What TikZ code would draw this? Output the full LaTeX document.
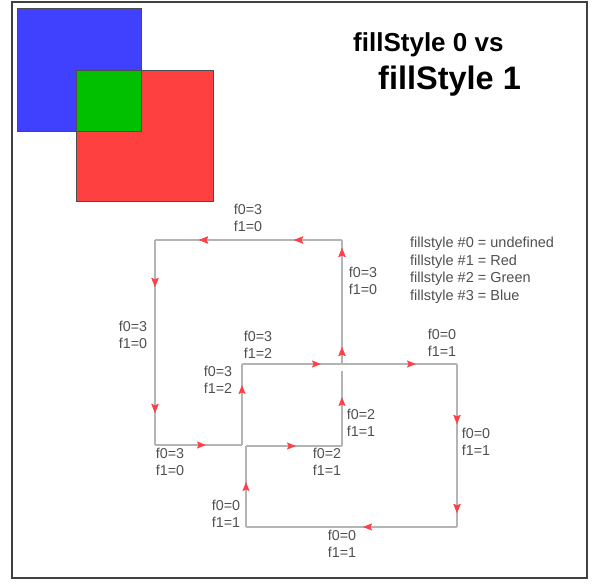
\documentclass[tikz,border=0pt]{standalone}
\usepackage{fontspec}
\setmainfont{Liberation Sans}
\usepackage{xcolor}
\usetikzlibrary{arrows.meta,decorations.markings}
\definecolor{fillblue}{RGB}{64, 64, 255}
\definecolor{fillred}{RGB}{255, 64, 64}
\definecolor{fillgreen}{RGB}{0, 192, 0}
\definecolor{edgegray}{RGB}{180, 180, 180}
\definecolor{tipred}{RGB}{255, 64, 72}
\definecolor{labelgray}{RGB}{80, 80, 80}

\begin{document}
\begin{tikzpicture}[x=1pt, y=-1pt,
    edgeline/.style={draw=edgegray, line width=1.3pt},
    tipat/.style={postaction={decorate}, decoration={markings,
        mark=at position #1 with {\arrow[color=tipred]{Stealth[length=9pt, width=7pt, inset=1.5pt]}}}},
    fval/.style={font=\fontsize{14.3}{17}\selectfont, text=labelgray, align=left, inner sep=0pt},
    legend/.style={font=\fontsize{14.5}{17.5}\selectfont, text=labelgray, align=left, inner sep=0pt, anchor=north west}]
        \useasboundingbox (0,0) rectangle (599,585);
        % Frame
        \draw[draw=black!75, line width=1.4pt] (12,2) rectangle (587,578);

        % Overlapping squares
        \fill[fillblue] (17,8) rectangle (141,131);
        \fill[fillred] (76,70) rectangle (213,201);
        \fill[fillgreen] (76,70) rectangle (141,131);
        \draw[black!70, line width=0.9pt] (17,8) rectangle (141,131);
        \draw[black!70, line width=0.9pt] (76,70) rectangle (213,201);

        % Title
        \node[font=\fontsize{26}{30}\selectfont\bfseries, anchor=base west, inner sep=0pt] (title0) at (353,52) {fillStyle 0 vs};
        \node[font=\fontsize{32.5}{38}\selectfont\bfseries, anchor=base west, inner sep=0pt] (title1) at (378,90) {fillStyle 1};

        % Corners of the edge paths
        \coordinate (tr) at (342,240);
        \coordinate (tl) at (155,240);
        \coordinate (bl) at (155,445);
        \coordinate (bm) at (242,445);
        \coordinate (ml) at (242,364);
        \coordinate (mm) at (342,364);
        \coordinate (mr) at (457,364);
        \coordinate (lr) at (457,527);
        \coordinate (ll) at (246,527);
        \coordinate (il) at (246,446);
        \coordinate (ir) at (342,446);
        \coordinate (gap) at (342,371);

        % Edges with direction marks
        \draw[edgeline, tipat=48pt, tipat=143pt] (tr) -- (tl);
        \draw[edgeline, tipat=47pt, tipat=173pt] (tl) -- (bl);
        \draw[edgeline, tipat=51pt] (bl) -- (bm);
        \draw[edgeline, tipat=60pt] (bm) -- (ml);
        \draw[edgeline, tipat=79pt] (ml) -- (mm);
        \draw[edgeline, tipat=74pt] (mm) -- (mr);
        \draw[edgeline, tipat=60pt, tipat=149pt] (mr) -- (lr);
        \draw[edgeline, tipat=94pt] (lr) -- (ll);
        \draw[edgeline, tipat=45pt] (ll) -- (il);
        \draw[edgeline, tipat=50pt] (il) -- (ir);
        \draw[edgeline, tipat=49pt] (ir) -- (gap);
        \draw[edgeline, tipat=17pt, tipat=116pt] (mm) -- (tr);

        % Edge values
        \node[fval] (ftop) at (248,218) {f0=3\\f1=0};
        \node[fval] (fup) at (363,281) {f0=3\\f1=0};
        \node[fval] (fleft) at (133,335) {f0=3\\f1=0};
        \node[fval] (fmid) at (258,345) {f0=3\\f1=2};
        \node[fval] (fstep) at (218,380) {f0=3\\f1=2};
        \node[fval] (fcorner) at (170,462) {f0=3\\f1=0};
        \node[fval] (finner) at (327,462) {f0=2\\f1=1};
        \node[fval] (finup) at (361,423) {f0=2\\f1=1};
        \node[fval] (fright) at (442,343) {f0=0\\f1=1};
        \node[fval] (fdown) at (476,442) {f0=0\\f1=1};
        \node[fval] (flow) at (226,514) {f0=0\\f1=1};
        \node[fval] (fbottom) at (342,544) {f0=0\\f1=1};

        % Legend
        \node[legend] (key) at (410,237) {fillstyle \#0 = undefined\\fillstyle \#1 = Red\\fillstyle \#2 = Green\\fillstyle \#3 = Blue};
    \end{tikzpicture}
\end{document}
